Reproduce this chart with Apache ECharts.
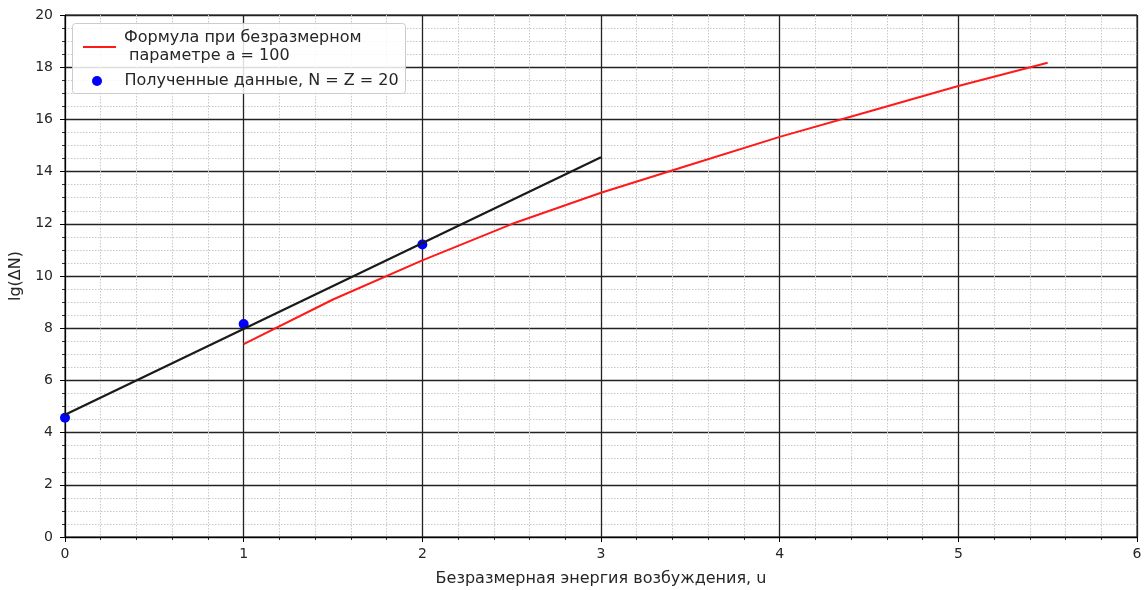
<!DOCTYPE html>
<html><head><meta charset="utf-8">
<script src="https://cdn.jsdelivr.net/npm/echarts@6/dist/echarts.min.js"></script>
<style>html,body{margin:0;padding:0;background:#fff}#c{width:1146px;height:590px}</style>
</head><body><div id="c"></div>
<script>
// Data
const xTicks = [0, 1, 2, 3, 4, 5, 6];
const yTicks = [0, 2, 4, 6, 8, 10, 12, 14, 16, 18, 20];
const formulaU = [1, 1.5, 2, 2.5, 3, 3.5, 4, 4.5, 5, 5.5];
const formulaLg = [7.39, 9.1, 10.6, 11.99, 13.19, 14.26, 15.33, 16.3, 17.28, 18.17];
const dataU = [0, 1, 2];
const dataLg = [4.57, 8.16, 11.21];
const fitU = [0, 3];
const fitLg = [4.68, 14.55];
const formulaName = 'Формула при безразмерном\n параметре a = 100';
const dataName = 'Полученные данные, N = Z = 20';

const zip = (a, b) => a.map((v, i) => [v, b[i]]);
const FONT = 'DejaVu Sans';
const TXT = '#262626';

const chart = echarts.init(document.getElementById('c'), null, {renderer: 'canvas'});
const axisCommon = {
  axisLine: {show: true, onZero: false, lineStyle: {color: '#000', width: 1}},
  axisTick: {show: true, inside: false, length: 5, lineStyle: {color: '#000', width: 1}},
  minorTick: {show: true, length: 3, lineStyle: {color: '#000', width: 0.8}},
  splitLine: {show: true, lineStyle: {color: '#222', width: 1.3}},
  minorSplitLine: {show: true, lineStyle: {color: '#c8c8c8', width: 1, type: [1.5, 1.5]}},
  axisLabel: {color: TXT, fontFamily: FONT, fontSize: 14},
  nameTextStyle: {color: TXT, fontFamily: FONT, fontSize: 16}
};
chart.setOption({
  animation: false,
  grid: {left: 65, right: 9, top: 15, bottom: 53, containLabel: false, outerBoundsMode: 'none',
    show: true, borderColor: '#000', borderWidth: 1, backgroundColor: 'transparent'},
  xAxis: Object.assign({}, axisCommon, {
    type: 'value', min: xTicks[0], max: xTicks[xTicks.length - 1], interval: 1,
    minorTick: Object.assign({}, axisCommon.minorTick, {splitNumber: 5}),
    axisLabel: Object.assign({}, axisCommon.axisLabel, {margin: 10}),
    name: 'Безразмерная энергия возбуждения, u', nameLocation: 'middle', nameGap: 34
  }),
  yAxis: Object.assign({}, axisCommon, {
    type: 'value', min: yTicks[0], max: yTicks[yTicks.length - 1], interval: 2,
    minorTick: Object.assign({}, axisCommon.minorTick, {splitNumber: 4}),
    axisLabel: Object.assign({}, axisCommon.axisLabel, {margin: 12}),
    name: 'lg(ΔN)', nameLocation: 'middle', nameGap: 34, nameRotate: 90
  }),
  graphic: [{
    type: 'rect', left: 72, top: 23, z: 100,
    shape: {width: 333, height: 70, r: 3},
    style: {fill: 'rgba(255,255,255,0.85)', stroke: '#cccccc', lineWidth: 1}
  }],
  legend: [{
    data: [{name: formulaName, icon: 'rect'}],
    left: 78, top: 24, orient: 'vertical', selectedMode: false, z: 110,
    itemWidth: 33, itemHeight: 2,
    textStyle: {color: TXT, fontFamily: FONT, fontSize: 16, lineHeight: 18, padding: [0, 0, 0, 3]}
  }, {
    data: [{name: dataName, icon: 'circle'}],
    left: 87, top: 67, orient: 'vertical', selectedMode: false, z: 110,
    itemWidth: 33, itemHeight: 10,
    textStyle: {color: TXT, fontFamily: FONT, fontSize: 16, lineHeight: 18, padding: [0, 0, 0, 6]}
  }],
  series: [{
    name: dataName, type: 'scatter', data: zip(dataU, dataLg),
    symbol: 'circle', symbolSize: 10, itemStyle: {color: '#0000ff', opacity: 1}, z: 3
  }, {
    name: 'fit', type: 'line', data: zip(fitU, fitLg), showSymbol: false, symbol: 'none',
    lineStyle: {color: '#1a1a1a', width: 2.2}, itemStyle: {color: '#1a1a1a'}, z: 4
  }, {
    name: formulaName, type: 'line', data: zip(formulaU, formulaLg), showSymbol: false, symbol: 'none',
    lineStyle: {color: '#ff1a1a', width: 2}, itemStyle: {color: '#ff1a1a'}, z: 4
  }]
});
</script></body></html>
